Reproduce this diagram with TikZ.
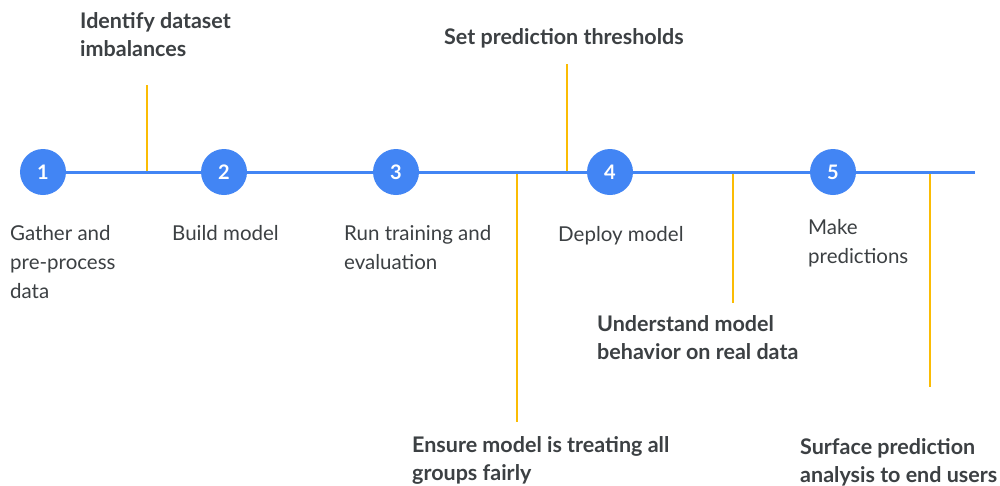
\documentclass[tikz,border=0pt]{standalone}
\usepackage{fontspec}
\setmainfont{Lato}
\usetikzlibrary{backgrounds}
\definecolor{gblue}{HTML}{4285F4}
\definecolor{gyellow}{HTML}{FBBC04}
\definecolor{gtext}{HTML}{3C4043}
\begin{document}
\begin{tikzpicture}[x=1pt,y=-1pt,
  stepcircle/.style={circle,fill=gblue,minimum size=46pt,inner sep=0pt,text=white,font=\fontsize{20}{20}\selectfont\bfseries},
  tl/.style={gblue,line width=3pt},
  yl/.style={gyellow,line width=2pt},
  lbl/.style={anchor=base west,inner sep=0pt,align=left,text=gtext,font=\fontsize{20.5}{29}\selectfont},
  blbl/.style={lbl,font=\fontsize{21.5}{27.5}\selectfont\bfseries}]
\useasboundingbox (0,0) rectangle (1000,485);
% timeline steps
\coordinate (lend) at (975,172);
\node[stepcircle] (s1) at (43,172) {1};
\node[stepcircle] (s2) at (224,172) {2};
\node[stepcircle] (s3) at (396,172) {3};
\node[stepcircle] (s4) at (610,172) {4};
\node[stepcircle] (s5) at (833,172) {5};
% yellow markers
\coordinate (y1a) at (147,172); \coordinate (y1b) at (147,85);
\coordinate (y2a) at (517,172); \coordinate (y2b) at (517,422);
\coordinate (y3a) at (567,172); \coordinate (y3b) at (567,64);
\coordinate (y4a) at (733,172); \coordinate (y4b) at (733,303);
\coordinate (y5a) at (930,172); \coordinate (y5b) at (930,387);
\begin{pgfonlayer}{background}
\fill[white] (0,0) rectangle (1000,485);
\draw[yl] (y1a) -- (y1b);
\draw[yl] (y2a) -- (y2b);
\draw[yl] (y3a) -- (y3b);
\draw[yl] (y4a) -- (y4b);
\draw[yl] (y5a) -- (y5b);
\draw[tl] (s1.west) -- (lend);
\end{pgfonlayer}
% labels (anchor = baseline of last line)
\node[lbl] (t1) at (10,298) {Gather and\\pre-process\\data};
\node[lbl] (t2) at (172,240) {Build model};
\node[lbl] (t3) at (344,269) {Run training and\\evaluation};
\node[lbl] (t4) at (558,241) {Deploy model};
\node[lbl] (t5) at (808,263) {Make\\predictions};
\node[blbl] (b1) at (80,56) {Identify dataset\\imbalances};
\node[blbl] (b2) at (444,44) {Set prediction thresholds};
\node[blbl] (b3) at (597,359) {Understand model\\behavior on real data};
\node[blbl] (b4) at (412,480) {Ensure model is treating all\\groups fairly};
\node[blbl] (b5) at (800,482) {Surface prediction\\analysis to end users};
\end{tikzpicture}
\end{document}
